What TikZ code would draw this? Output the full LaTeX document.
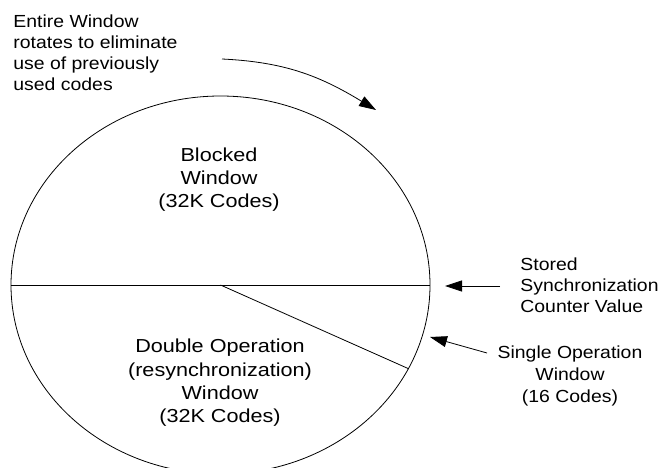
\documentclass[tikz,border=0pt]{standalone}
\usepackage{fontspec}
\setmainfont{Liberation Sans}
\usetikzlibrary{arrows.meta,shapes.geometric}
\newcommand\widetext[3]{\scalebox{#1}[1]{\begin{tabular}{@{}#2@{}}#3\end{tabular}}}
\begin{document}
\begin{tikzpicture}[x=1pt,y=-1pt,
  line width=0.8pt,
  outlbl/.style={inner sep=0pt,font=\fontsize{17.5}{21}\selectfont},
  inlbl/.style={inner sep=0pt,anchor=north,font=\fontsize{18.8}{23.4}\selectfont},
  arr/.style={-{Triangle[length=17pt,width=11pt]}}]
\useasboundingbox (0,0) rectangle (661,468);
\clip (0,0) rectangle (661,468);
% window ellipse
\node[ellipse,draw,inner sep=0pt,minimum width=419pt,minimum height=378pt] (win) at (220.5,285) {};
\draw (win.west) -- (win.east);
\draw (win.center) -- (win.-24.4);
% labels
\node[outlbl,anchor=north west] (entire) at (13,12.8)
  {\widetext{1.11}{l}{Entire Window\\rotates to eliminate\\use of previously\\used codes}};
\node[inlbl] (blocked) at (219,144.4)
  {\widetext{1.15}{c}{Blocked\\Window\\(32K Codes)}};
\node[inlbl] (double) at (220,336)
  {\widetext{1.15}{c}{Double Operation\\(resynchronization)\\Window\\(32K Codes)}};
\node[outlbl,anchor=north west] (stored) at (520,255.8)
  {\widetext{1.11}{l}{Stored\\Synchronization\\Counter Value}};
\node[outlbl,anchor=north,font=\fontsize{17.5}{21.7}\selectfont] (single) at (570,343.2)
  {\widetext{1.11}{c}{Single Operation\\Window\\(16 Codes)}};
% arrows
\coordinate (rotTail) at (222,59);
\coordinate (rotTip) at (376,110);
\draw[arr] (rotTail) .. controls (285,62) and (320,76) .. (rotTip);
\coordinate (stTail) at (500,286);
\coordinate (stTip) at (445,286);
\draw[arr] (stTail) -- (stTip);
\coordinate (sgTail) at (487,353);
\coordinate (sgTip) at (430,337);
\draw[arr] (sgTail) -- (sgTip);
\end{tikzpicture}
\end{document}
